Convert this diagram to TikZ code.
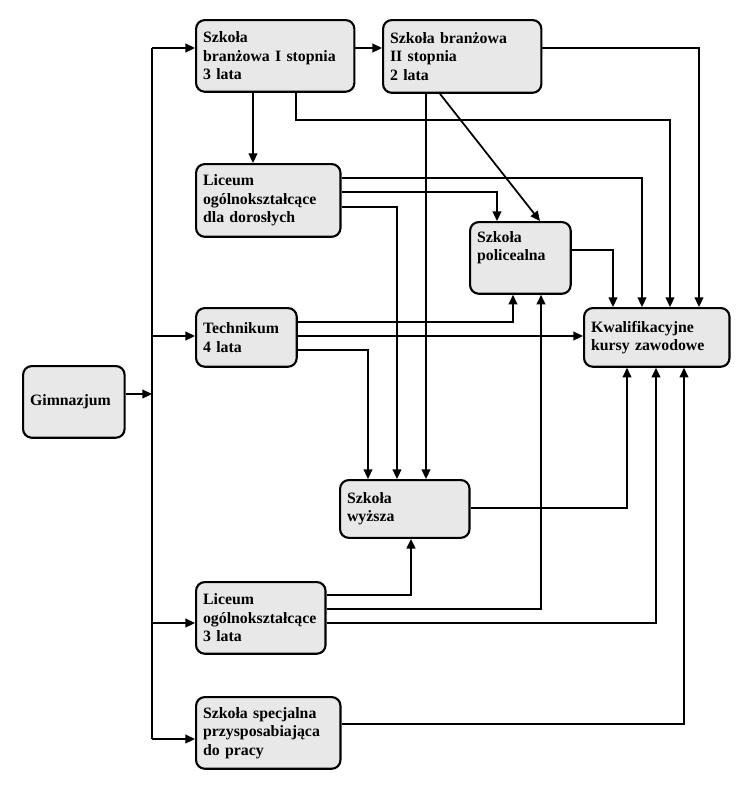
\documentclass[tikz,border=0pt]{standalone}
\usepackage{fontspec}
\setmainfont{Liberation Serif}
\usetikzlibrary{arrows.meta}
\definecolor{boxgray}{RGB}{232,232,232}

\begin{document}
\begin{tikzpicture}[x=0.02cm,y=-0.02cm,
        szkola/.style={draw,line width=1.2pt,rounded corners=5pt,fill=boxgray,
            anchor=north west,align=left,inner xsep=4pt,inner ysep=2pt,
            font=\fontsize{9}{10.5}\selectfont\bfseries},
        conn/.style={line width=1pt},
        arr/.style={conn,-{Triangle[length=5.5pt,width=5pt]}}]
    \useasboundingbox (0,0) rectangle (752,789);

    % Boxes:
    % placed by their top left corner
    \node[szkola,text width=49.8pt,minimum height=40.8pt] (gim) at (22,365) {Gimnazjum};
    \node[szkola,text width=82.1pt,minimum height=40.8pt] (b1) at (195,19)
        {Szkoła\\branżowa I stopnia\\3 lata};
    \node[szkola,text width=82.1pt,minimum height=41.4pt] (b2) at (382,19)
        {Szkoła branżowa\\II stopnia\\2 lata};
    \node[szkola,text width=74.2pt,minimum height=41.4pt] (ld) at (195,163)
        {Liceum\\ogólnokształcące\\dla dorosłych};
    \node[szkola,text width=49.3pt,minimum height=40.8pt] (pol) at (469,221)
        {Szkoła\\policealna\\\strut};
    \node[szkola,text width=49.3pt,minimum height=33.4pt] (tech) at (195,307)
        {Technikum\\4 lata};
    \node[szkola,text width=74.8pt,minimum height=33.4pt] (kw) at (583,307)
        {Kwalifikacyjne\\kursy zawodowe};
    \node[szkola,text width=65.7pt,minimum height=32.9pt] (wy) at (339,479)
        {Szkoła\\wyższa};
    \node[szkola,text width=65.7pt,minimum height=40.8pt] (l3) at (195,581)
        {Liceum\\ogólnokształcące\\3 lata};
    \node[szkola,text width=74.2pt,minimum height=40.8pt] (ss) at (195,696)
        {Szkoła specjalna\\przysposabiająca\\do pracy};

    % Bus out of Gimnazjum
    \coordinate (bustop) at (152,48);
    \coordinate (busend) at (152,739);
    \draw[conn] (bustop) -- (busend);
    \draw[arr] (gim.east |- 0,394) -- (bustop |- 0,394);
    \foreach \n/\y in {b1/48,tech/336,l3/623,ss/739}
        \draw[arr] (bustop |- 0,\y) -- (\n.west |- 0,\y);

    % straight connectors
    \draw[arr] (b1.east |- 0,48) -- (b2.west |- 0,48);
    \draw[arr] (b1.south -| 253,0) -- (ld.north -| 253,0);
    \draw[arr] (b2.south -| 426,0) -- (wy.north -| 426,0);
    \draw[arr] (b2.south -| 440,0) -- (pol.north -| 540,0);
    \draw[arr] (tech.east |- 0,336) -- (kw.west |- 0,336);
    \draw[arr] (b1.south -| 296,0) -- (296,120) -| (kw.north -| 670,0);

    % elbow connectors: from / height / column / to
    \foreach \a/\y/\x/\b in {b2/48/699/kw.north, ld/178/642/kw.north,
            ld/192/497/pol.north, ld/207/397/wy.north, pol/250/613/kw.north,
            tech/322/513/pol.south, tech/350/368/wy.north, wy/508/627/kw.south,
            l3/595/411/wy.south, l3/609/541/pol.south, l3/623/656/kw.south,
            ss/724/684/kw.south}
        \draw[arr] (\a.east |- 0,\y) -| (\b -| \x,0);
\end{tikzpicture}
\end{document}
